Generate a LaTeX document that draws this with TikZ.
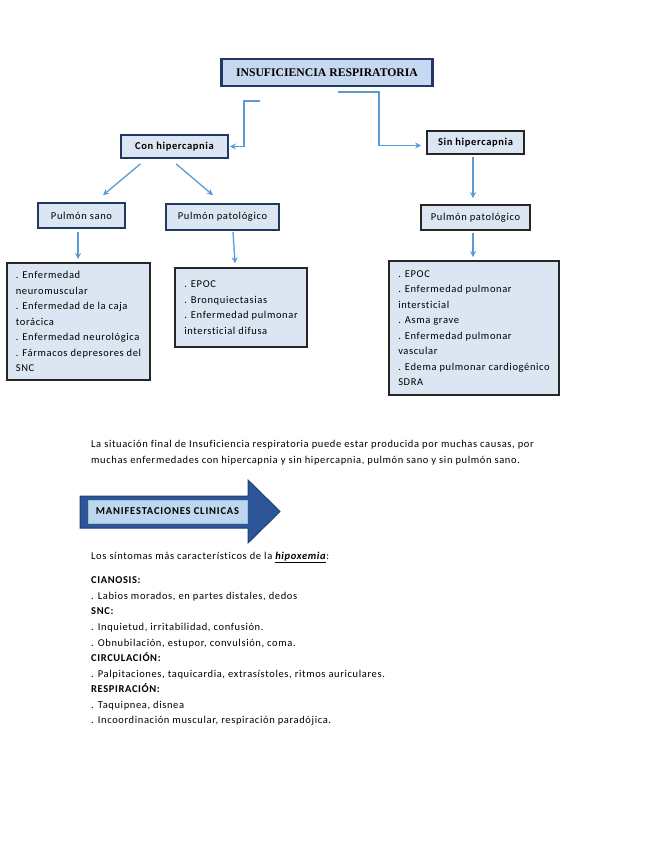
\documentclass[tikz,border=0pt]{standalone}
\usepackage{fontspec}
\setmainfont{Carlito}[LetterSpace=6,Ligatures=NoCommon]
\newfontfamily\titlefont{Liberation Serif}
\usetikzlibrary{arrows.meta,calc}
\definecolor{navy}{HTML}{1F3864}
\definecolor{boxfill}{HTML}{DCE6F2}
\definecolor{titlefill}{HTML}{C6D9F1}
\definecolor{arrowblue}{HTML}{5B9BD5}
\definecolor{bigarrow}{HTML}{2E5597}
\definecolor{bigarrowedge}{HTML}{203F73}
\definecolor{innerfill}{HTML}{BDD7EE}
\tikzset{
  labelbox/.style={draw=navy, line width=1.6pt, fill=boxfill, inner sep=0pt, font=\fontsize{10.5}{12}\selectfont},
  blackbox/.style={draw=black!85, line width=1.6pt, fill=boxfill, inner sep=0pt, font=\fontsize{10.5}{12}\selectfont},
  listbox/.style={draw=black!85, line width=1.6pt, fill=boxfill, inner sep=0pt, align=left,
     font=\fontsize{10.5}{15.5}\selectfont},
  conn/.style={draw=arrowblue, line width=1.3pt, -{Stealth[length=6pt,width=6pt]}},
  bodytext/.style={anchor=base west, inner sep=0pt, font=\fontsize{10.5}{12}\selectfont},
}
\begin{document}
\begin{tikzpicture}[x=1pt,y=-1pt]
\useasboundingbox (0,0) rectangle (655,848);
\fill[white] (0,0) rectangle (655,848);

% title
\node[draw=navy, line width=2.2pt, fill=titlefill, minimum width=211pt, minimum height=27pt, inner sep=0pt,
  font=\titlefont\bfseries\fontsize{11.7}{13}\selectfont] (title) at (327,72.5) {INSUFICIENCIA RESPIRATORIA\hspace{8pt}};

\node[labelbox, minimum width=107pt, minimum height=23pt] (conh) at (174.5,146.5) {\bfseries Con hipercapnia};
\node[blackbox, minimum width=97pt, minimum height=23pt] (sinh) at (475.5,142.5) {\bfseries Sin hipercapnia};

\node[labelbox, minimum width=87pt, minimum height=25pt] (sano) at (81.5,215.5) {Pulmón sano};
\node[labelbox, minimum width=113pt, minimum height=26pt] (patl) at (222.5,217) {Pulmón patológico};
\node[blackbox, minimum width=109pt, minimum height=25pt] (patr) at (475.5,217.5) {Pulmón patológico};

\node[listbox, minimum width=143pt, minimum height=117pt] (listl) at (78.5,321.5) {%
. Enfermedad\\ neuromuscular\\ . Enfermedad de la caja\\ torácica\\ . Enfermedad neurológica\\ . Fármacos depresores del\\ SNC};
\node[listbox, minimum width=132pt, minimum height=79pt] (listm) at (241,307.5) {%
. EPOC\\ . Bronquiectasias\\ . Enfermedad pulmonar\\ intersticial difusa};
\node[listbox, minimum width=170pt, minimum height=134pt] (listr) at (474,328) {%
. EPOC\\ . Enfermedad pulmonar\\ intersticial\\ . Asma grave\\ . Enfermedad pulmonar\\ vascular\\ . Edema pulmonar cardiogénico\\ SDRA};

% connectors
\coordinate (c1) at (260,101);
\coordinate (c2) at (338,92);
\draw[conn, shorten >=1pt] (c1) -- (244,101) |- (conh.east);
\draw[conn, shorten >=5pt] (c2) -- (379,92) |- ([yshift=-3pt]sinh.west);
\draw[conn] ([xshift=-34pt,yshift=-5pt]conh.south) -- ([xshift=21.5pt,yshift=7pt]sano.north);
\draw[conn] ([xshift=1.5pt,yshift=-5pt]conh.south) -- ([xshift=-9.5pt,yshift=8pt]patl.north);
\draw[conn] ([xshift=-3.5pt,yshift=-3pt]sano.south) -- ([xshift=-0.5pt,yshift=3pt]listl.north);
\draw[conn] ([xshift=10.5pt,yshift=-1pt]patl.south) -- ([xshift=-6pt,yshift=4pt]listm.north);
\draw[conn] ([xshift=-2.5pt,yshift=-2pt]sinh.south) -- ([xshift=-2.5pt,yshift=6pt]patr.north);
\draw[conn] ([xshift=-2.5pt,yshift=-2pt]patr.south) -- ([xshift=-1pt,yshift=3pt]listr.north);

% paragraph
\node[bodytext] (p1) at (91,447.5) {La situación final de Insuficiencia respiratoria puede estar producida por muchas causas, por};
\node[bodytext] (p2) at (91,463.5) {muchas enfermedades con hipercapnia y sin hipercapnia, pulmón sano y sin pulmón sano.};

% big arrow
\draw[fill=bigarrow, draw=bigarrowedge, line width=1pt, line join=miter]
  (80,496) -- (248,496) -- (248,480) -- (280,511.5) -- (248,543) -- (248,528) -- (80,528) -- cycle;
\node[fill=innerfill, draw=innerfill!80!bigarrow, line width=0.6pt, minimum width=159pt, minimum height=23pt, inner sep=0pt,
  font=\bfseries\fontsize{10.5}{12}\selectfont\addfontfeature{LetterSpace=8}] (manif) at (167.5,511.5) {MANIFESTACIONES CLINICAS};

% symptoms
\node[bodytext] (s0) at (91,559.5) {Los síntomas más característicos de la \underline{\textbf{\textit{hipoxemia}}}:};
\node[bodytext] (s1) at (91,583.5) {\textbf{CIANOSIS:}};
\node[bodytext] (s2) at (91,599.5) {. Labios morados, en partes distales, dedos};
\node[bodytext] (s3) at (91,614.5) {\textbf{SNC:}};
\node[bodytext] (s4) at (91,630.5) {. Inquietud, irritabilidad, confusión.};
\node[bodytext] (s5) at (91,646.5) {. Obnubilación, estupor, convulsión, coma.};
\node[bodytext] (s6) at (91,661.5) {\textbf{CIRCULACIÓN:}};
\node[bodytext] (s7) at (91,677.5) {. Palpitaciones, taquicardia, extrasístoles, ritmos auriculares.};
\node[bodytext] (s8) at (91,692.5) {\textbf{RESPIRACIÓN:}};
\node[bodytext] (s9) at (91,708.5) {. Taquipnea, disnea};
\node[bodytext] (s10) at (91,723.5) {. Incoordinación muscular, respiración paradójica.};
\end{tikzpicture}
\end{document}
